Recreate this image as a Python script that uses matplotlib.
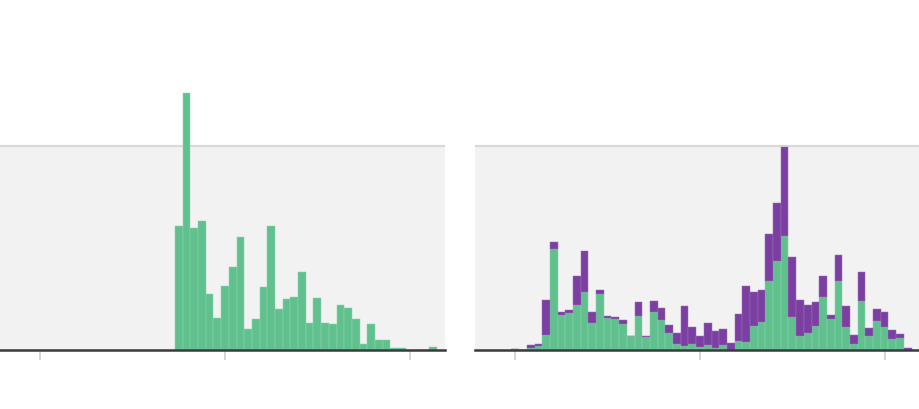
import numpy as np
import matplotlib
matplotlib.use('Agg')
import matplotlib.pyplot as plt

# left panel: single series, one bin per unit, first bin starts at 17.5
left_start = 17.5
left_vals = [48.5, 100.9, 47.9, 50.8, 21.8, 12.6, 25.2, 32.7, 44.5, 8.2,
             12.0, 24.9, 48.7, 16.2, 20.1, 21.0, 30.5, 10.5, 20.5, 10.8,
             10.1, 17.8, 16.5, 12.0, 2.4, 10.3, 4.0, 4.0, 0.9, 1.0,
             0.0, 0.0, 0.0, 1.4]

# right panel: stacked green + purple, first bin starts at -0.5
right_start = -0.5
right_green = [0.6, 0.0, 1.0, 1.5, 6.1, 39.8, 13.6, 14.4, 17.7, 22.7,
               10.8, 21.8, 12.5, 12.2, 10.1, 5.7, 13.3, 5.0, 14.8, 11.8,
               6.6, 2.4, 1.6, 2.4, 1.1, 1.8, 0.9, 2.0, 0.0, 3.7,
               3.3, 9.6, 10.9, 27.0, 35.1, 44.9, 12.9, 5.7, 6.7, 9.6,
               20.7, 12.2, 27.0, 9.2, 2.4, 19.4, 5.7, 11.6, 8.9, 4.2,
               4.6, 0.0]
right_purple = [0.0, 0.0, 0.8, 0.8, 13.6, 2.6, 1.4, 1.5, 11.5, 16.3,
                4.3, 1.9, 1.0, 0.7, 1.6, 0.0, 5.4, 0.6, 4.6, 4.9,
                3.3, 4.2, 15.5, 6.5, 4.6, 8.7, 6.5, 6.4, 2.9, 10.5,
                21.7, 13.3, 12.6, 18.4, 22.6, 34.9, 23.8, 14.0, 11.1, 9.3,
                8.5, 1.6, 10.2, 7.9, 3.6, 11.4, 2.8, 4.6, 6.1, 3.6,
                1.8, 1.0]

ticks = [0, 24, 48]
band_top = 80

GREEN = '#60c18f'
PURPLE = '#7b3fa1'

fig = plt.figure(figsize=(9.2, 4.1), dpi=100)
bottom = 0.1476 - 1.6 / 410
ax1 = fig.add_axes([0.0, bottom, 445 / 920, 0.8524])
ax2 = fig.add_axes([475 / 920, bottom, 445 / 920, 0.8524])


def style_ax(ax):
    ax.set_xlim(-5.24, 52.6)
    ax.set_ylim(0, 137.06)
    ax.axhspan(0, band_top, color='#f2f2f2', zorder=0, lw=0)
    ax.axhline(band_top, color='#d9d9d9', lw=1.6, zorder=0.5)
    for s in ['left', 'right', 'top']:
        ax.spines[s].set_visible(False)
    ax.spines['bottom'].set_color('#3a3a3a')
    ax.spines['bottom'].set_linewidth(1.8)
    ax.spines['bottom'].set_zorder(5)
    ax.set_xticks(ticks)
    ax.set_xticklabels([])
    ax.set_yticks([])
    ax.tick_params(axis='x', direction='out', length=7.5, width=1.1,
                   color='#cccccc')


style_ax(ax1)
style_ax(ax2)

xl = left_start + np.arange(len(left_vals))
ax1.bar(xl, left_vals, width=1, align='edge', color=GREEN,
        edgecolor='#8fd2ae', linewidth=0.35, zorder=2)

xr = right_start + np.arange(len(right_green))
ax2.bar(xr, right_green, width=1, align='edge', color=GREEN,
        edgecolor='#8fd2ae', linewidth=0.35, zorder=2)
ax2.bar(xr, right_purple, bottom=right_green, width=1, align='edge',
        color=PURPLE, edgecolor='#9a72b8', linewidth=0.35, zorder=2)

fig.savefig('out.png', dpi=100)
